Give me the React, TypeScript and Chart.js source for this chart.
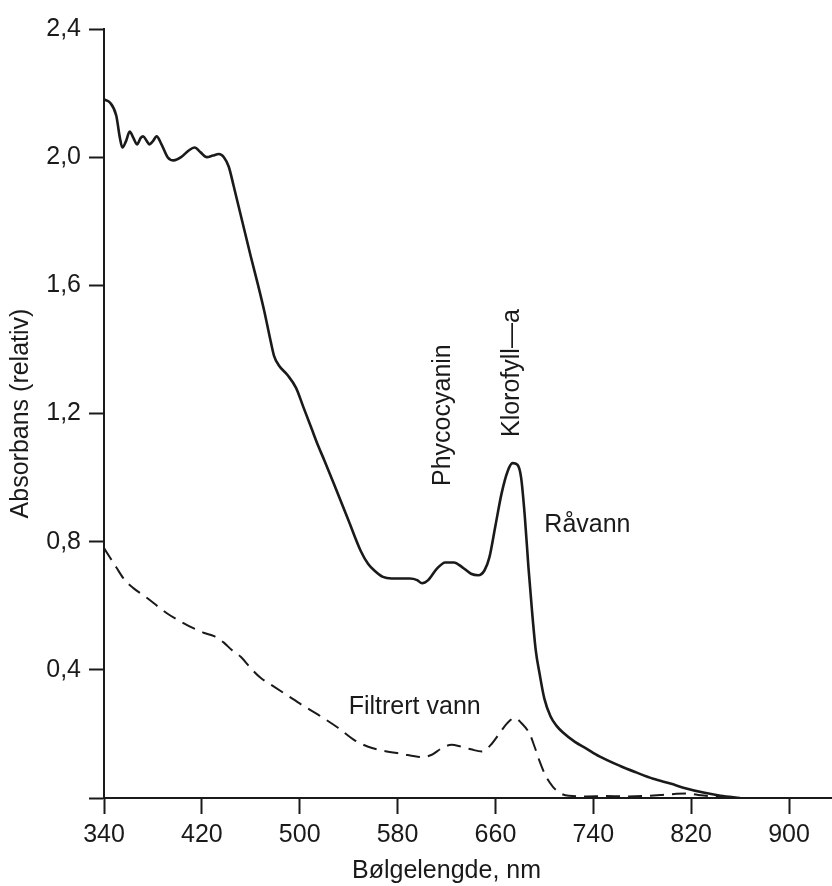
import { useEffect, useRef } from 'react';
import { Chart, registerables } from 'chart.js';

Chart.register(...registerables);

// Råvann (raw water) absorbance spectrum
const rawWavelength = [
  340, 345, 350, 353, 355, 358, 361, 364, 367, 370, 372, 375, 377, 380, 383, 387, 392, 397, 403, 409,
  414, 419, 424, 429, 434, 438, 442, 446, 453, 460, 466, 471, 476, 479, 483, 490, 497, 503, 510, 515,
  520, 528, 540, 550, 556, 561, 568, 575, 582, 590, 596, 600, 605, 612, 619, 626, 633, 640, 646, 651,
  655, 660, 665, 670, 674, 678, 681, 684, 687, 690, 693, 696, 700, 705, 710, 715, 725, 734, 745, 762,
  775, 789, 803, 816, 830, 844, 860,
];
const rawAbsorbance = [
  2.18, 2.17, 2.13, 2.06, 2.03, 2.05, 2.08, 2.06, 2.04, 2.06, 2.065, 2.05, 2.04, 2.05, 2.065, 2.04, 2.0, 1.99, 2.0, 2.02,
  2.03, 2.015, 2.0, 2.005, 2.01, 2.0, 1.97, 1.91, 1.8, 1.69, 1.6, 1.52, 1.43, 1.38, 1.35, 1.32, 1.28, 1.22, 1.15, 1.1,
  1.055, 0.98, 0.865, 0.77, 0.73, 0.71, 0.69, 0.685, 0.685, 0.685, 0.68, 0.67, 0.68, 0.715, 0.735, 0.735, 0.72, 0.7, 0.695, 0.71,
  0.75, 0.85, 0.95, 1.02, 1.045, 1.04, 1.0, 0.88, 0.72, 0.58, 0.46, 0.39, 0.31, 0.255, 0.225, 0.205, 0.175, 0.155, 0.13, 0.1,
  0.08, 0.06, 0.045, 0.03, 0.017, 0.007, 0.0,
];

// Filtrert vann (filtered water) absorbance spectrum
const filtWavelength = [
  340, 345, 350, 357, 364, 375, 385, 392, 403, 413, 422, 430, 438, 445, 452, 460, 468, 478, 490, 502,
  515, 531, 545, 556, 568, 583, 600, 608, 616, 624, 632, 640, 649, 656, 663, 670, 676, 681, 688, 692,
  696, 701, 707, 713, 720, 735, 750, 765, 780, 795, 808, 816, 825, 835, 845, 857,
];
const filtAbsorbance = [
  0.78, 0.75, 0.72, 0.68, 0.655, 0.625, 0.595, 0.575, 0.55, 0.53, 0.515, 0.505, 0.485, 0.46, 0.44, 0.405, 0.375, 0.35, 0.32, 0.29,
  0.26, 0.22, 0.18, 0.16, 0.148, 0.138, 0.128, 0.135, 0.155, 0.166, 0.16, 0.152, 0.145, 0.165, 0.2, 0.235, 0.25, 0.235, 0.2, 0.16,
  0.116, 0.07, 0.035, 0.015, 0.007, 0.005, 0.006, 0.005, 0.006, 0.009, 0.013, 0.014, 0.01, 0.006, 0.003, 0.0,
];

// Axis ranges / ticks
const xMin = 340;
const xMax = 900;
const xStep = 80;
const yMin = 0;
const yMax = 2.4;
const yStep = 0.4;

const xTitle = 'Bølgelengde, nm';
const yTitle = 'Absorbans (relativ)';

// Text annotations placed in data coordinates
const annotationTexts = ['Phycocyanin', 'Klorofyll—a', 'Råvann', 'Filtrert vann'];
const annotationX = [617, 674, 700, 594];
const annotationY = [1.195, 1.326, 0.852, 0.284];
const annotationRotated = [true, true, false, false];
const annotationAlign = ['center', 'center', 'left', 'center'];

const INK = '#1a1a1a';
const FONT = "'Liberation Sans', Arial, Helvetica, sans-serif";

export default function App() {
  const canvasRef = useRef<HTMLCanvasElement | null>(null);

  useEffect(() => {
    document.body.style.margin = '0';
    const canvas = canvasRef.current;
    if (!canvas) return;

    const decorPlugin = {
      id: 'decor',
      afterDraw(chart: any) {
        const { ctx, chartArea, scales } = chart;
        ctx.save();
        // x axis line extends beyond the last tick to the right edge
        ctx.strokeStyle = INK;
        ctx.lineWidth = 2;
        ctx.beginPath();
        ctx.moveTo(chartArea.right, chartArea.bottom);
        ctx.lineTo(chart.width, chartArea.bottom);
        ctx.stroke();

        ctx.fillStyle = INK;
        ctx.font = `25px ${FONT}`;
        ctx.textBaseline = 'middle';
        annotationTexts.forEach((t, i) => {
          const px = scales.x.getPixelForValue(annotationX[i]);
          const py = scales.y.getPixelForValue(annotationY[i]);
          ctx.save();
          ctx.translate(px, py);
          if (annotationRotated[i]) ctx.rotate(-Math.PI / 2);
          ctx.textAlign = annotationAlign[i] as CanvasTextAlign;
          ctx.fillText(t, 0, 0);
          ctx.restore();
        });
        ctx.restore();
      },
    };

    const chart = new Chart(canvas, {
      type: 'line',
      data: {
        datasets: [
          {
            label: 'Råvann',
            data: rawWavelength.map((x, i) => ({ x, y: rawAbsorbance[i] })),
            borderColor: INK,
            borderWidth: 2.6,
            pointRadius: 0,
            fill: false,
            cubicInterpolationMode: 'monotone',
          },
          {
            label: 'Filtrert vann',
            data: filtWavelength.map((x, i) => ({ x, y: filtAbsorbance[i] })),
            borderColor: INK,
            borderWidth: 2,
            borderDash: [14, 8],
            pointRadius: 0,
            fill: false,
            cubicInterpolationMode: 'monotone',
          },
        ],
      },
      options: {
        animation: false,
        responsive: false,
        devicePixelRatio: 1,
        layout: { padding: { left: 0, top: 29, right: 43, bottom: 0 } },
        plugins: {
          legend: { display: false },
          tooltip: { enabled: false },
        },
        scales: {
          x: {
            type: 'linear',
            min: xMin,
            max: xMax,
            grid: {
              drawOnChartArea: false,
              drawTicks: true,
              tickLength: 16,
              tickWidth: 2,
              tickColor: INK,
            },
            border: { display: true, color: INK, width: 2 },
            ticks: {
              stepSize: xStep,
              color: INK,
              padding: 6,
              maxRotation: 0,
              font: { family: FONT, size: 25 },
            },
            title: {
              display: true,
              text: xTitle,
              color: INK,
              font: { family: FONT, size: 25 },
              padding: { top: 0, bottom: 0 },
            },
            afterFit(scale: any) {
              scale.height = 88;
            },
          },
          y: {
            type: 'linear',
            min: yMin,
            max: yMax,
            grid: {
              drawOnChartArea: false,
              drawTicks: true,
              tickLength: 15,
              tickWidth: 2,
              tickColor: INK,
            },
            border: { display: true, color: INK, width: 2 },
            ticks: {
              stepSize: yStep,
              color: INK,
              padding: 8,
              font: { family: FONT, size: 25 },
              callback: (v: any) => (Number(v) === 0 ? '' : Number(v).toFixed(1).replace('.', ',')),
            },
            title: {
              display: true,
              text: yTitle,
              color: INK,
              font: { family: FONT, size: 25 },
              padding: { top: 6, bottom: 0 },
            },
            afterFit(scale: any) {
              scale.width = 104;
            },
          },
        },
      },
      plugins: [decorPlugin],
    });

    return () => chart.destroy();
  }, []);

  return <canvas ref={canvasRef} width={832} height={886} style={{ display: 'block' }} />;
}
